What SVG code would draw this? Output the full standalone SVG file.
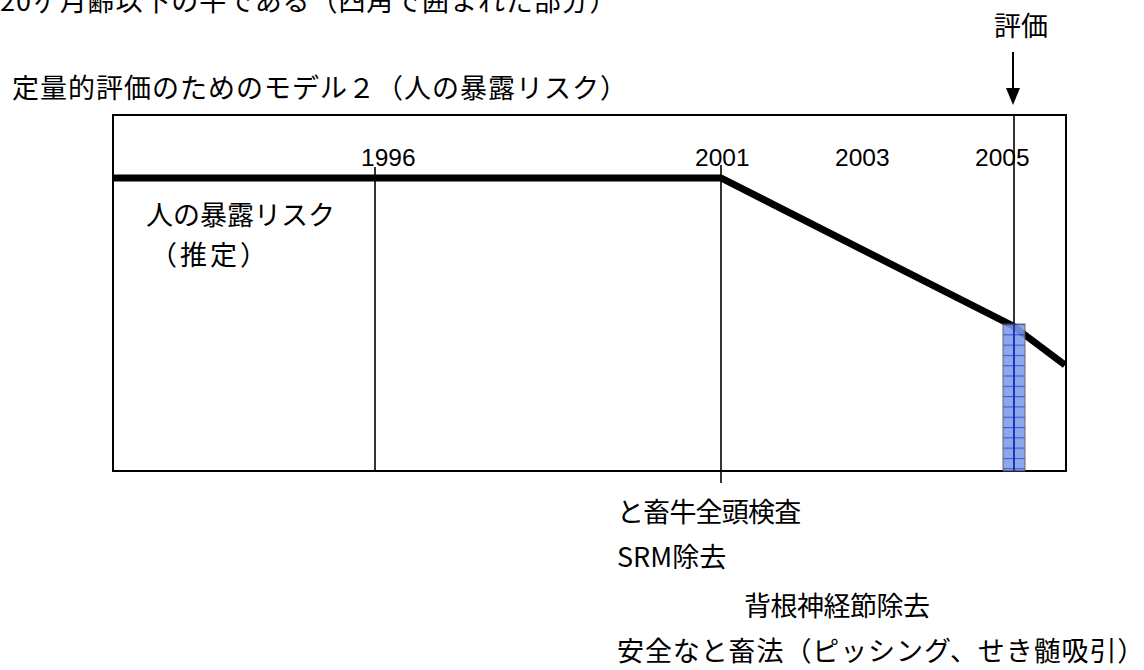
<svg xmlns="http://www.w3.org/2000/svg" width="1144" height="670" viewBox="0 0 1144 670">
  <defs>
    <style>
      .jp { font-family: "Noto Sans CJK JP", "Noto Sans", sans-serif; font-size: 27px; fill: #000; }
      .yr { font-family: "Liberation Sans", Arial, sans-serif; font-size: 24.5px; fill: #000; }
      .thin { stroke: #000; stroke-width: 1.6; fill: none; }
    </style>
    <pattern id="grid" x="1003" y="324" width="11" height="10.3" patternUnits="userSpaceOnUse">
      <rect width="11" height="10.3" fill="#7f9be9"/>
      <path d="M0 0.5 H11" stroke="#1d44d8" stroke-width="1.2"/>
    </pattern>
  </defs>
  <rect width="1144" height="670" fill="#fff"/>

  <g id="intro-text">
    <text class="jp" x="0" y="11" letter-spacing="0.9">20ヶ月齢以下の牛である（四角で囲まれた部分）</text>
  </g>
  <g id="title">
    <text class="jp" x="12" y="98" letter-spacing="1">定量的評価のためのモデル２（人の暴露リスク）</text>
  </g>

  <g id="chart-frame">
    <rect x="113" y="115" width="953" height="356" fill="none" stroke="#000" stroke-width="2"/>
  </g>

  <g id="year-labels">
    <text class="yr" x="361" y="166">1996</text>
    <text class="yr" x="695" y="166">2001</text>
    <text class="yr" x="835" y="166">2003</text>
    <text class="yr" x="975" y="166">2005</text>
  </g>

  <g id="connectors">
    <line class="thin" x1="375" y1="167" x2="375" y2="471"/>
    <line class="thin" x1="721" y1="165" x2="721" y2="483"/>
    <line class="thin" x1="1014" y1="115" x2="1014" y2="324"/>
    <line x1="1013" y1="52" x2="1013" y2="90" stroke="#000" stroke-width="2"/>
    <polygon points="1006,88 1020,88 1013,105" fill="#000"/>
    <polyline points="113,178 721,178 1013,326 1065,365" fill="none" stroke="#000" stroke-width="7" stroke-linejoin="miter"/>
  </g>

  <g id="evaluation-bar">
    <rect x="1003" y="324" width="22" height="147" fill="url(#grid)" stroke="#555" stroke-width="1" opacity="0.88"/>
    <line x1="1014" y1="324" x2="1014" y2="471" stroke="#0d2fb0" stroke-width="1.8"/>
  </g>

  <g id="label-evaluation">
    <text class="jp" x="1021" y="36" text-anchor="middle">評価</text>
  </g>
  <g id="label-risk">
    <text class="jp" x="146" y="225">人の暴露リスク</text>
    <text class="jp" x="150" y="265" letter-spacing="3">（推定）</text>
  </g>
  <g id="label-measures">
    <text class="jp" x="617" y="522" letter-spacing="-0.8">と畜牛全頭検査</text>
    <text class="jp" x="617" y="567">SRM除去</text>
    <text class="jp" x="744" y="616" letter-spacing="-0.5">背根神経節除去</text>
    <text class="jp" x="617" y="661" letter-spacing="0.9">安全なと畜法（ピッシング、せき髄吸引）</text>
  </g>
</svg>
